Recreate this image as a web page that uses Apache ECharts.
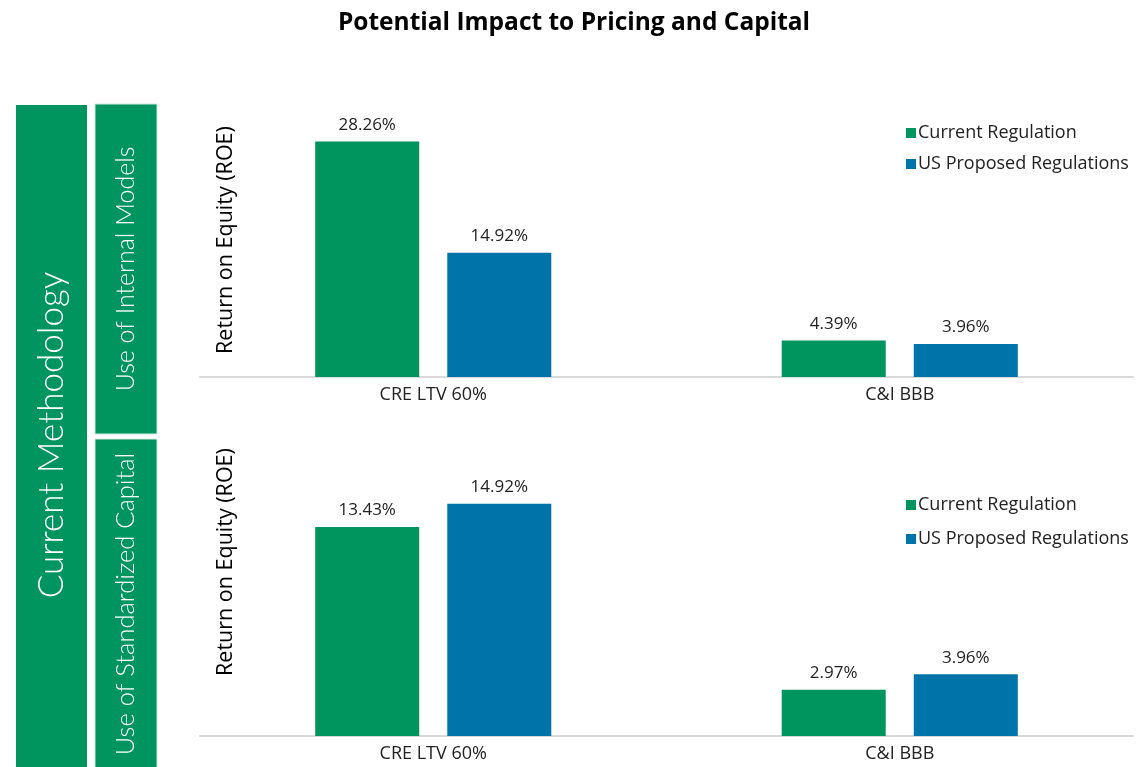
<!DOCTYPE html>
<html>
<head>
<meta charset="utf-8">
<title>Potential Impact to Pricing and Capital</title>
<script src="https://cdn.jsdelivr.net/npm/echarts@6/dist/echarts.min.js"></script>
<style>
  html, body { margin: 0; padding: 0; background: #fff; }
  #chart { width: 1148px; height: 767px; }
</style>
</head>
<body>
<div id="chart"></div>
<script>
// data
var categories = ['CRE LTV 60%', 'C&I BBB'];
var seriesNames = ['Current Regulation', 'US Proposed Regulations'];
var internalCurrent = [28.26, 4.39];
var internalProposed = [14.92, 3.96];
var standardCurrent = [13.43, 2.97];
var standardProposed = [14.92, 3.96];

var GREEN = '#00945f';
var BLUE = '#0074a8';
var FONT = '"Open Sans", Lato, sans-serif';
var SIDE_FONT = 'Lato, "Open Sans", sans-serif';

function barSeries(name, data, color, axisIdx) {
    return {
        name: name,
        type: 'bar',
        xAxisIndex: axisIdx,
        yAxisIndex: axisIdx,
        data: data,
        barWidth: 104,
        barGap: '27%',
        itemStyle: { color: color },
        label: {
            show: true,
            position: 'top',
            distance: 8,
            color: '#222',
            fontFamily: FONT,
            fontSize: 17,
            formatter: function (p) { return p.value.toFixed(2) + '%'; }
        },
        animation: false
    };
}

function catAxis(idx) {
    return {
        type: 'category',
        gridIndex: idx,
        data: categories,
        axisTick: { show: false },
        axisLine: { lineStyle: { color: '#d9d9d9', width: 2 } },
        axisLabel: { color: '#222', fontFamily: FONT, fontSize: 18, margin: 9 }
    };
}

function valAxis(idx, max) {
    return {
        type: 'value',
        gridIndex: idx,
        min: 0,
        max: max,
        show: false,
        splitLine: { show: false }
    };
}

function legendAt(top, gap) {
    return {
        data: seriesNames,
        orient: 'vertical',
        left: 901,
        top: top,
        itemWidth: 10,
        itemHeight: 10,
        itemGap: gap,
        icon: 'rect',
        textStyle: { fontFamily: FONT, fontSize: 18, color: '#222', padding: [0, 0, 0, -3] }
    };
}

function sideText(x, y, text, size) {
    return {
        type: 'text', x: x, y: y, rotation: Math.PI / 2,
        style: { text: text, fill: '#fff', fontFamily: SIDE_FONT, fontSize: size, fontWeight: 300, align: 'center', verticalAlign: 'middle' }
    };
}

function roeTitle(y) {
    return {
        type: 'text', x: 226, y: y, rotation: Math.PI / 2,
        style: { text: 'Return on Equity (ROE)', fill: '#000', fontFamily: FONT, fontSize: 21.5, align: 'center', verticalAlign: 'middle' }
    };
}

var option = {
    backgroundColor: '#fff',
    title: {
        text: 'Potential Impact to Pricing and Capital',
        left: 'center',
        top: 6,
        textStyle: { fontFamily: FONT, fontSize: 24.5, fontWeight: 'bold', color: '#000' }
    },
    legend: [legendAt(119, 13), legendAt(491, 16)],
    grid: [
        { left: 200, right: 15, top: 127, height: 250 },
        { left: 200, right: 15, top: 487, height: 249 }
    ],
    xAxis: [catAxis(0), catAxis(1)],
    yAxis: [valAxis(0, 30), valAxis(1, 16)],
    series: [
        barSeries(seriesNames[0], internalCurrent, GREEN, 0),
        barSeries(seriesNames[1], internalProposed, BLUE, 0),
        barSeries(seriesNames[0], standardCurrent, GREEN, 1),
        barSeries(seriesNames[1], standardProposed, BLUE, 1)
    ],
    graphic: [
        // left side panels
        { type: 'rect', shape: { x: 16, y: 105, width: 71, height: 670 }, style: { fill: GREEN } },
        { type: 'rect', shape: { x: 95, y: 104, width: 62, height: 330 }, style: { fill: GREEN, stroke: '#cfe8dc', lineWidth: 1 } },
        { type: 'rect', shape: { x: 95, y: 439, width: 62, height: 336 }, style: { fill: GREEN, stroke: '#cfe8dc', lineWidth: 1 } },
        sideText(52, 435, 'Current Methodology', 35),
        sideText(126, 269, 'Use of Internal Models', 25),
        sideText(126, 604, 'Use of Standardized Capital', 25.5),
        // y axis titles
        roeTitle(240),
        roeTitle(562)
    ]
};

var myChart = echarts.init(document.getElementById('chart'));
myChart.setOption(option);
</script>
</body>
</html>
